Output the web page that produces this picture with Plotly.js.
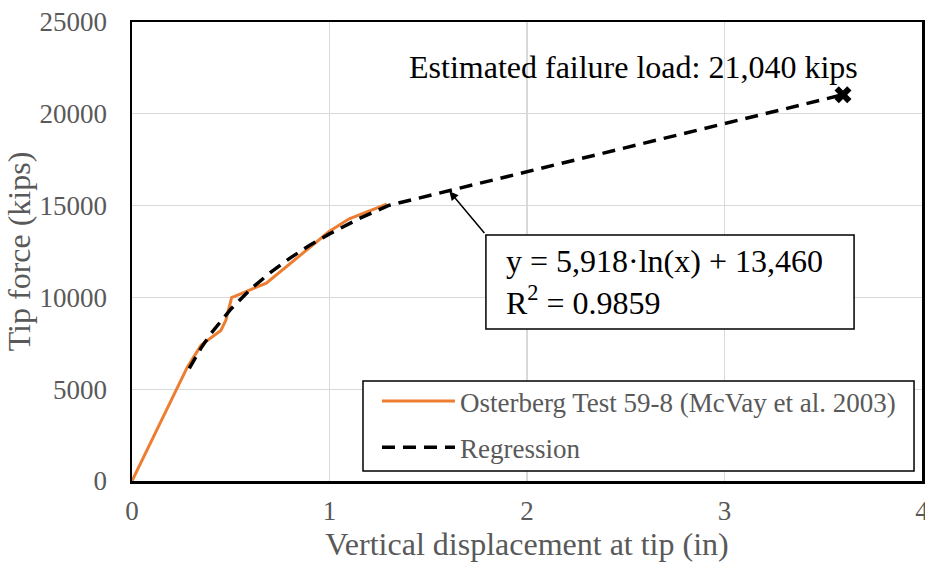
<!DOCTYPE html>
<html>
<head>
<meta charset="utf-8">
<script src="https://cdn.plot.ly/plotly-3.0.1.min.js"></script>
<style>html,body{margin:0;padding:0;background:#fff;}#chart{width:925px;height:562px;}</style>
</head>
<body>
<div id="chart"></div>
<script>
const testX = [0, 0.28, 0.35, 0.45, 0.475, 0.505, 0.52, 0.68, 1.0, 1.1, 1.29];
const testY = [0, 6200, 7400, 8200, 8750, 10000, 10060, 10780, 13600, 14280, 15080];

// Regression curve (straight extension to the failure point)
const regX = [0.29, 0.35, 0.4, 0.5, 0.6, 0.7, 0.8, 0.9, 1.0, 1.15, 1.3, 3.6];
const regY = [6130, 7250, 8040, 9360, 10440, 11350, 12140, 12840, 13460, 14290, 15010, 21040];

// Estimated failure point
const failX = [3.6];
const failY = [21040];

const legendNames = ["Osterberg Test 59-8 (McVay et al. 2003)", "Regression"];
const failureLabel = "Estimated failure load: 21,040 kips";
const equationLabel = "y = 5,918·ln(x) + 13,460<br>R<sup>2</sup> = 0.9859";
const xTitle = "Vertical displacement at tip (in)";
const yTitle = "Tip force (kips)";

const serif = "Liberation Serif";
const grey = "#595959";

const traces = [
  {
    x: testX, y: testY, type: "scatter", mode: "lines",
    name: legendNames[0], legendgroup: "a",
    line: {color: "#ED7D31", width: 3}
  },
  {
    x: regX, y: regY, type: "scatter", mode: "lines",
    name: legendNames[1], legendgroup: "b",
    line: {color: "#000000", width: 3.5, dash: "13px,8px"}
  },
  {
    x: failX, y: failY, type: "scatter", mode: "markers",
    showlegend: false,
    marker: {symbol: "x", size: 15, color: "#000000", line: {width: 0}}
  }
];

const layout = {
  width: 925, height: 562,
  margin: {l: 132, r: 3, t: 22, b: 81},
  paper_bgcolor: "#ffffff", plot_bgcolor: "#ffffff",
  font: {family: serif, color: grey, size: 26},
  xaxis: {
    range: [0, 4], dtick: 1, tick0: 0,
    showgrid: true, gridcolor: "#d9d9d9", gridwidth: 1.3,
    zeroline: false, showline: true, linecolor: "#000000", linewidth: 2.5, mirror: true,
    ticks: "", ticklabelstandoff: 4, ticklabeloverflow: "allow",
    tickfont: {family: serif, size: 27, color: grey},
    title: {text: xTitle, font: {family: serif, size: 32, color: grey}, standoff: 4}
  },
  yaxis: {
    range: [0, 25000], dtick: 5000, tick0: 0, tickformat: "d",
    showgrid: true, gridcolor: "#d9d9d9", gridwidth: 1.3,
    zeroline: false, showline: true, linecolor: "#000000", linewidth: 2.5, mirror: true,
    ticks: "", ticklabelstandoff: 17,
    tickfont: {family: serif, size: 27, color: grey},
    title: {text: yTitle + "\u00a0\u00a0", font: {family: serif, size: 32, color: grey}, standoff: 0}
  },
  showlegend: true,
  legend: {
    x: 0.3101, xanchor: "left", y: 0.2266, yanchor: "top",
    bgcolor: "rgba(0,0,0,0)", borderwidth: 0,
    font: {family: serif, size: 27, color: grey},
    traceorder: "grouped", tracegroupgap: 8, itemwidth: 73
  },
  shapes: [
    {type: "rect", xref: "paper", yref: "paper", x0: 0.2924, x1: 0.9899, y0: 0.0218, y1: 0.2179,
     line: {color: "#000000", width: 1.5}, fillcolor: "#ffffff", layer: "above"},
    {type: "rect", xref: "paper", yref: "paper", x0: 0.448, x1: 0.914, y0: 0.331, y1: 0.536,
     line: {color: "#000000", width: 1.5}, fillcolor: "#ffffff", layer: "above"}
  ],
  annotations: [
    {xref: "x", yref: "y", x: 2.54, y: 22550, text: failureLabel, showarrow: false,
     font: {family: serif, size: 32, color: "#000000"}, xanchor: "center", yanchor: "middle"},
    {xref: "paper", yref: "paper", x: 0.4705, y: 0.434, text: equationLabel, showarrow: false,
     align: "left", xanchor: "left", yanchor: "middle",
     font: {family: serif, size: 32, color: "#000000"}},
    {xref: "x", yref: "y", x: 1.607, y: 15780, text: " ", showarrow: true,
     ax: 37, ay: 44, arrowhead: 2, arrowsize: 1.2, arrowwidth: 1.5, arrowcolor: "#000000",
     font: {size: 2}}
  ]
};

Plotly.newPlot("chart", traces, layout, {displayModeBar: false, staticPlot: true});
</script>
</body>
</html>
